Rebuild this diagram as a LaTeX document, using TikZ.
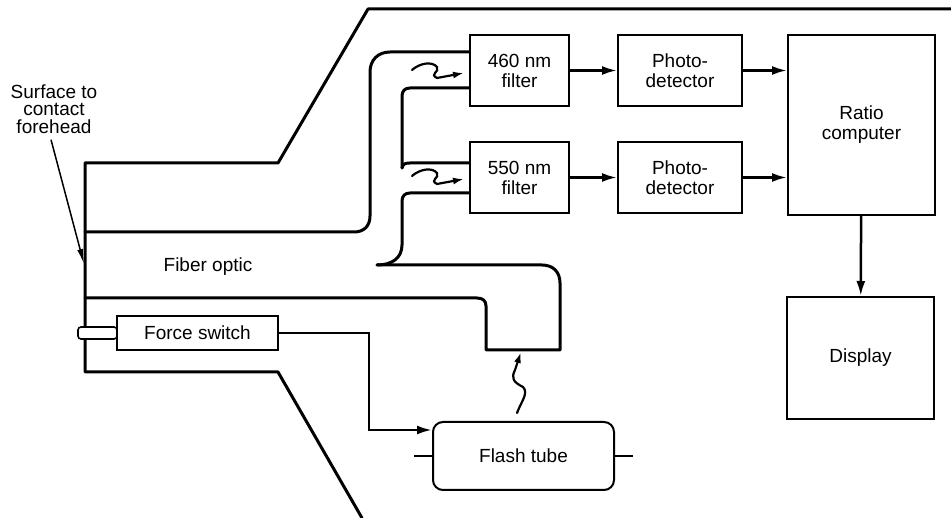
\documentclass[tikz,border=0pt]{standalone}
\usepackage{fontspec}
\setmainfont{Liberation Sans}
\usetikzlibrary{arrows.meta,calc}
\begin{document}
\begin{tikzpicture}[x=1pt,y=-1pt,
  fib/.style={line width=3pt,line join=round,line cap=round},
  boxnode/.style={draw,line width=2pt,inner sep=0pt,align=center,font=\fontsize{19}{20}\selectfont},
  conn/.style={line width=2.5pt,-{Latex[length=15pt,width=9pt]}},
  wig/.style={line width=2.2pt,line cap=round,-{Latex[length=11pt,width=7pt]}},
  lab/.style={line width=1.5pt,-{Latex[length=15pt,width=6pt]}},
  txt/.style={inner sep=0pt,align=center,font=\fontsize{19}{20}\selectfont}]
\useasboundingbox (0,0) rectangle (951,518);

% housing outline
\draw[fib] (951,9) -- (368,9) -- (278,163) -- (85,163) -- (85,372) -- (278,372) -- (362,518);

% boxes
\node[boxnode,minimum width=99pt,minimum height=71pt] (f460) at (519.5,70.5) {460 nm\\filter};
\node[boxnode,minimum width=99pt,minimum height=71pt] (f550) at (519.5,177.5) {550 nm\\filter};
\node[boxnode,minimum width=124pt,minimum height=71pt] (pd1) at (680,70.5) {Photo-\\detector};
\node[boxnode,minimum width=124pt,minimum height=71pt] (pd2) at (680,177.5) {Photo-\\detector};
\node[boxnode,minimum width=147pt,minimum height=180pt] (ratio) at (861.5,125) {Ratio\\computer};
\node[boxnode,minimum width=147pt,minimum height=122pt] (disp) at (860.5,358) {Display};
\node[boxnode,minimum width=161pt,minimum height=34pt] (force) at (197.5,333) {Force switch};
\node[boxnode,minimum width=181pt,minimum height=68pt,rounded corners=10pt] (flash) at (523.5,456) {Flash tube};
\node[draw,line width=1.6pt,fill=white,rounded corners=3pt,minimum width=39pt,minimum height=12pt,inner sep=0pt] (plunger) at (97.5,333) {};

% fiber optic bundles
\draw[fib] (85,232) -- (354,232) .. controls (364,232) and (370,226) .. (370,216) -- (370,72) .. controls (370,60) and (378,52) .. (390,52) -- (f460.west |- 0,52);
\draw[fib] (f460.west |- 0,88) -- (410,88) .. controls (405,88) and (402,91) .. (402,96) -- (402,168);
\draw[fib] (402,168) .. controls (403,164) and (405,163) .. (410,163) -- (f550.west |- 0,163);
\draw[fib] (f550.west |- 0,193) -- (410,193) .. controls (405,193) and (402,196) .. (402,201) -- (402,245) .. controls (402,258) and (392,265) .. (377,265);
\draw[fib] (377,265) -- (542,265) .. controls (553,265) and (560,272) .. (560,283) -- (560,350) -- (486,350) -- (486,306) .. controls (486,301) and (483,298) .. (477,298) -- (85,298);

% light wiggles
\foreach \dy in {0,106}{
  \draw[wig] (412,70+\dy) .. controls (420,63+\dy) and (432,61+\dy) .. (437,67+\dy) .. controls (440,72+\dy) and (429,74+\dy) .. (437,78+\dy) -- (464,73+\dy);
}
\draw[wig] (517,413) .. controls (521,402) and (529,393) .. (523,387) .. controls (513,382) and (511,378) .. (515,370) -- (521,352);

% signal connectors
\draw[conn] (f460) -- (pd1);
\draw[conn] (f550) -- (pd2);
\draw[conn] (pd1.east) -- (pd1.east -| ratio.west);
\draw[conn] (pd2.east) -- (pd2.east -| ratio.west);
\draw[conn] (ratio) -- (disp);
\coordinate (ftin) at ($(flash.north west)+(0,9)$);
\draw[conn] (force.east) -- (369,333) |- (ftin);
\draw[line width=2.5pt] (flash.west) -- ++(-18,0);
\draw[line width=2.5pt] (flash.east) -- ++(18,0);

% labels
\node[txt,font=\fontsize{19}{17.5}\selectfont] (surf) at (54,109) {Surface to\\contact\\forehead};
\coordinate (fh) at (84,264);
\draw[lab] ($(surf.south)+(-3,6)$) -- (fh);
\node[txt] (fo) at (208,267) {Fiber optic};
\end{tikzpicture}
\end{document}
